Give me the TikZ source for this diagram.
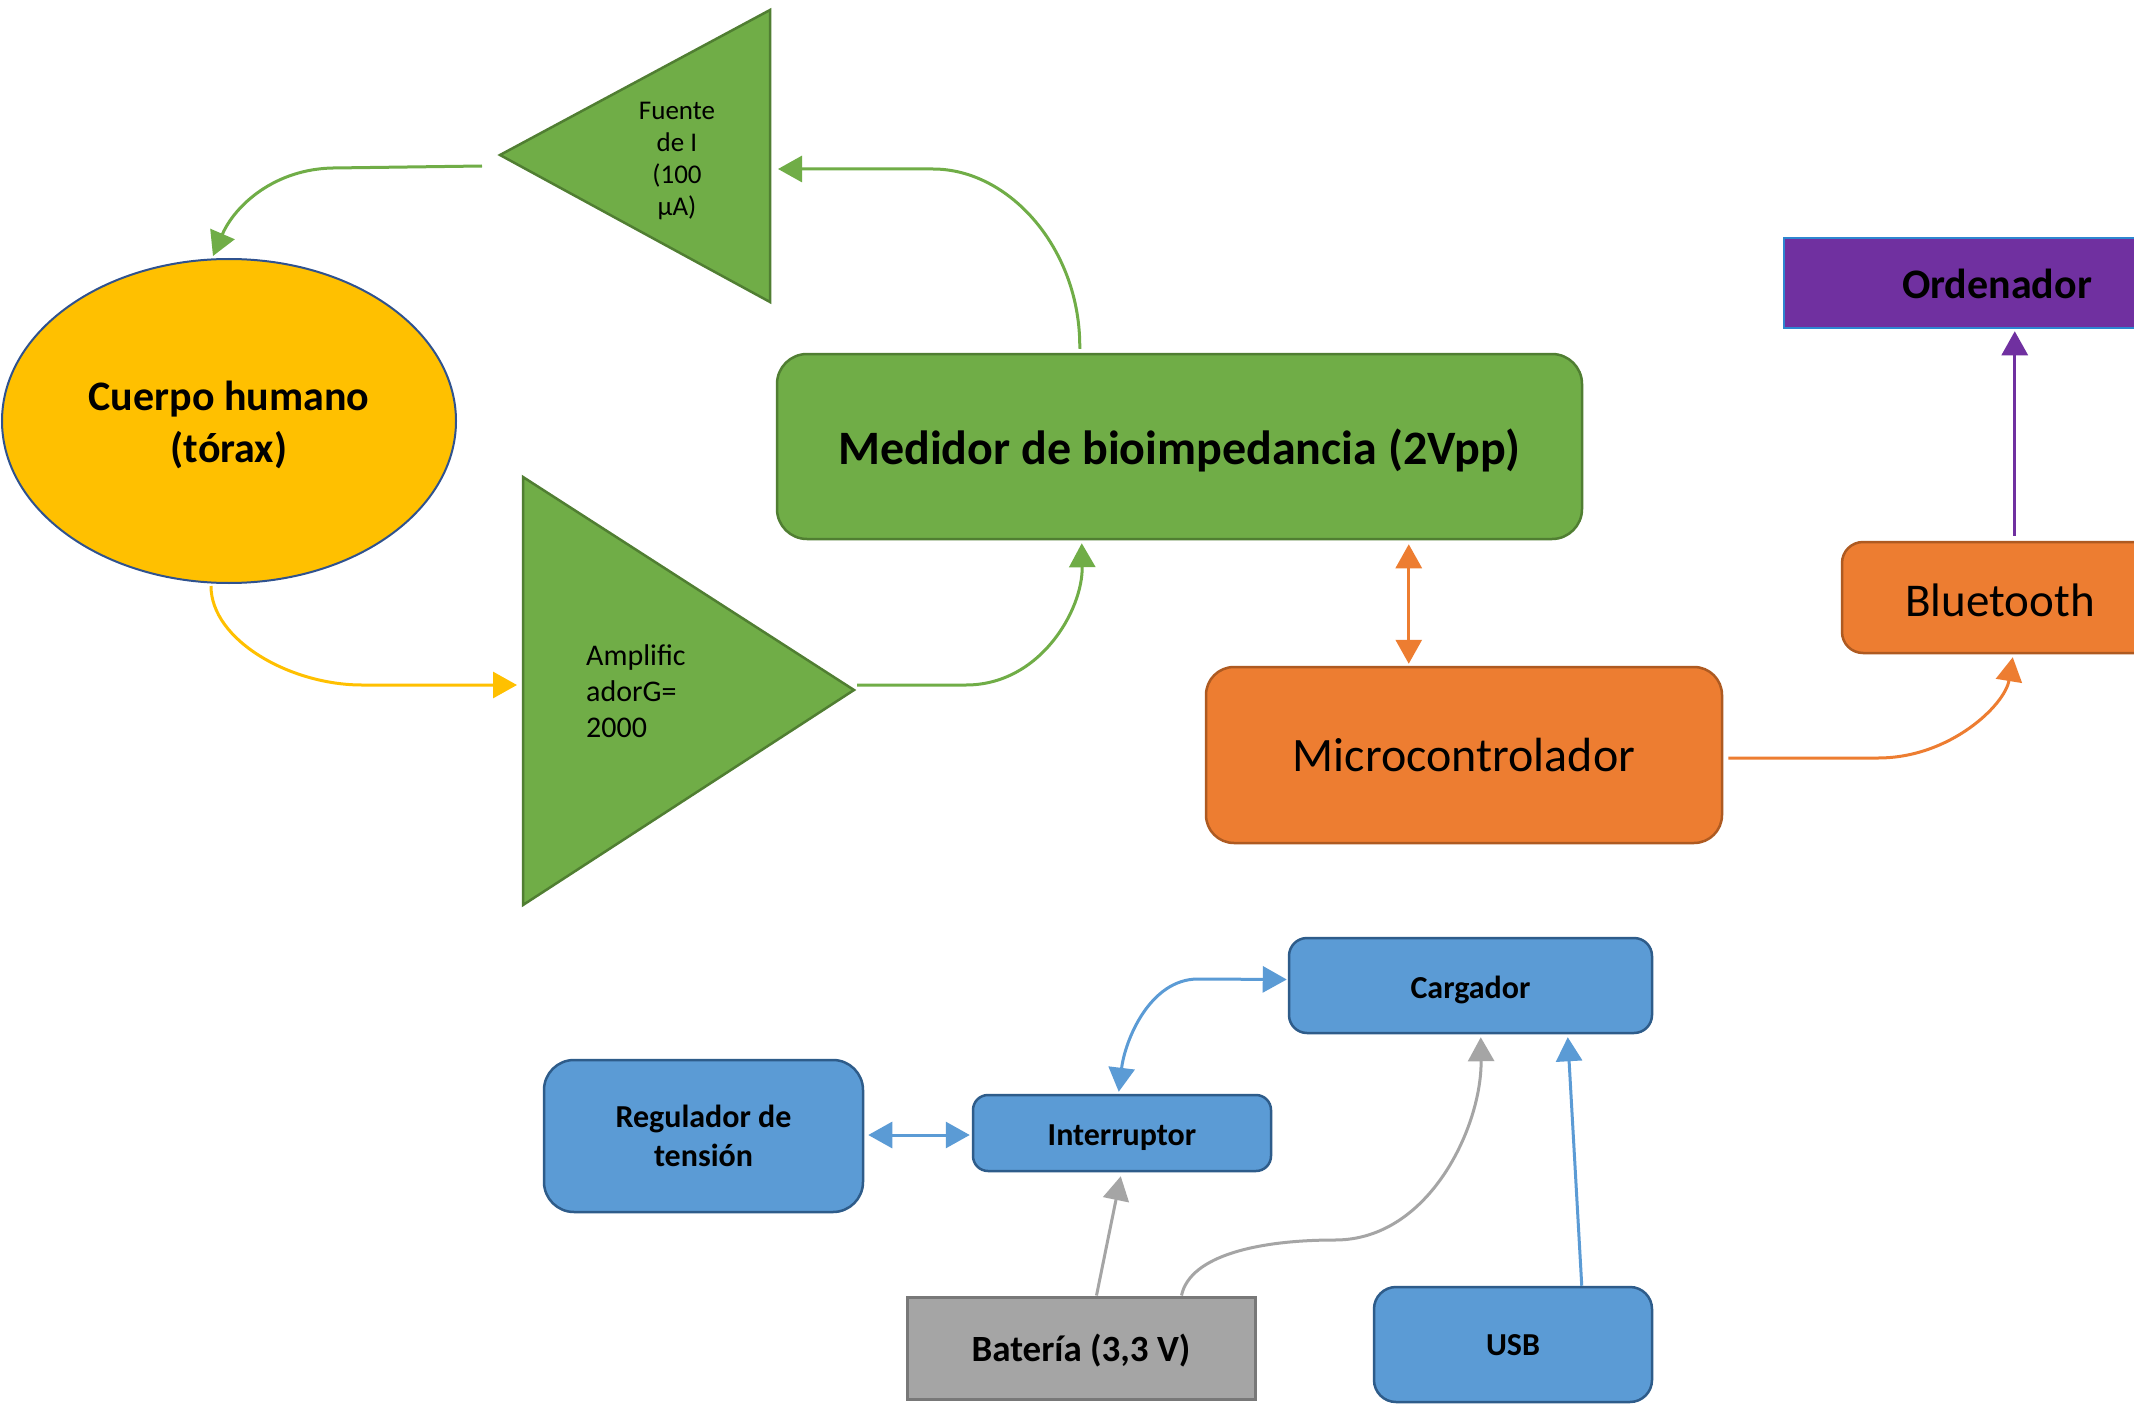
\documentclass[tikz,border=0pt]{standalone}
\usepackage{fontspec}
\setmainfont{Carlito}
\usetikzlibrary{arrows.meta,calc,shapes.geometric}
\definecolor{gfill}{HTML}{70AD47}
\definecolor{gbord}{HTML}{507E32}
\definecolor{ofill}{HTML}{ED7D31}
\definecolor{obord}{HTML}{AE5A21}
\definecolor{bfill}{HTML}{5B9BD5}
\definecolor{bbord}{HTML}{2E5C8A}
\definecolor{kfill}{HTML}{A5A5A5}
\definecolor{kbord}{HTML}{787878}
\definecolor{yfill}{HTML}{FFC000}
\definecolor{ebord}{HTML}{2F528F}
\definecolor{pfill}{HTML}{7030A0}
\definecolor{pbord}{HTML}{2E86D0}
\newcommand{\lowr}[2]{\raisebox{-#1pt}[\height][\depth]{#2}}
\begin{document}
\begin{tikzpicture}[x=1pt,y=-1pt,
  >={Triangle[length=24pt,width=26pt]},
  conn/.style={line width=3pt},
  gline/.style={conn,draw=gfill,fill=none},
  yline/.style={conn,draw=yfill},
  oline/.style={conn,draw=ofill},
  pline/.style={conn,draw=pfill},
  bline/.style={conn,draw=bfill},
  kline/.style={conn,draw=kfill},
  greenbox/.style={draw=gbord,fill=gfill,line width=2.5pt,rounded corners=30pt,inner sep=0pt,align=center},
  orangebox/.style={draw=obord,fill=ofill,line width=2.5pt,inner sep=0pt,align=center},
  bluebox/.style={draw=bbord,fill=bfill,line width=2.5pt,inner sep=0pt,align=center,font=\fontsize{32}{39}\selectfont\bfseries},
]
\useasboundingbox (0,0) rectangle (2134,1407);
\clip (0,0) rectangle (2134,1407);
\fill[white] (0,0) rectangle (2134,1407);

% ---- triangles ----
\coordinate (fApex) at (500,155);
\coordinate (fTop) at (770,10);
\coordinate (fBot) at (770,302);
\filldraw[fill=gfill,draw=gbord,line width=2.5pt] (fApex) -- (fTop) -- (fBot) -- cycle;
\node[align=center,inner sep=0pt,font=\fontsize{27}{32}\selectfont] (fuente) at (677,161) {Fuente\\de I\\(100\\µA)};
\coordinate (fuenteIn) at (778,169);
\coordinate (fuenteOut) at (482,166);

\coordinate (aTop) at (523,477);
\coordinate (aBot) at (523,905);
\coordinate (aApex) at (854,690);
\filldraw[fill=gfill,draw=gbord,line width=2.5pt] (aTop) -- (aApex) -- (aBot) -- cycle;
\node[align=left,anchor=west,inner sep=0pt,font=\fontsize{30}{36}\selectfont] (amp) at (586,691) {Amplific\\adorG=\\2000};
\coordinate (ampIn) at (517,685);
\coordinate (ampOut) at (857,685);

% ---- nodes ----
\node[ellipse,draw=ebord,fill=yfill,line width=2pt,minimum width=454pt,minimum height=324pt,inner sep=0pt,align=center,font=\fontsize{42}{52}\selectfont\bfseries] (cuerpo) at (229,421) {\lowr{5}{\begin{tabular}{@{}c@{}}Cuerpo humano\\(tórax)\end{tabular}}};

\node[greenbox,minimum width=805pt,minimum height=185pt,font=\fontsize{48}{58}\selectfont\bfseries] (medidor) at (1179.5,446.5) {\lowr{4}{Medidor de bioimpedancia (2Vpp)}};

\node[orangebox,rounded corners=28pt,minimum width=516pt,minimum height=176pt,font=\fontsize{48}{58}\selectfont] (micro) at (1464,755) {Microcontrolador};

\node[orangebox,rounded corners=21pt,minimum width=316pt,minimum height=111pt,font=\fontsize{47}{56}\selectfont] (bluetooth) at (2000,597.5) {\lowr{3}{Bluetooth}};

\node[draw=pbord,fill=pfill,line width=2.5pt,inner sep=0pt,minimum width=426pt,minimum height=90pt,font=\fontsize{42}{50}\selectfont\bfseries] (ordenador) at (1997,283) {\lowr{1}{Ordenador}};

\node[bluebox,rounded corners=30pt,minimum width=319pt,minimum height=152pt] (regulador) at (703.5,1136) {Regulador de\\tensión};
\node[bluebox,rounded corners=15pt,minimum width=298pt,minimum height=76pt] (interruptor) at (1122,1133) {\lowr{5}{Interruptor}};
\node[bluebox,rounded corners=18pt,minimum width=363pt,minimum height=95pt] (cargador) at (1470.5,985.5) {\lowr{4}{Cargador}};
\node[bluebox,rounded corners=22pt,minimum width=278pt,minimum height=115pt] (usb) at (1513,1344.5) {\lowr{1}{USB}};
\node[draw=kbord,fill=kfill,line width=3pt,inner sep=0pt,minimum width=348pt,minimum height=102pt,font=\fontsize{37}{44}\selectfont\bfseries] (bateria) at (1081,1348) {\lowr{3}{Batería (3,3 V)}};

% ---- connectors ----
\draw[gline,->] ($(medidor.north west)+(304,-4)$) .. controls (1081,250) and (1010,169) .. (933,169) -- (fuenteIn);
\draw[gline,->] (fuenteOut) -- (333,168) .. controls (275,169) and (235,205) .. ($(cuerpo.north)+(-16,-2)$);
\draw[yline,->] ($(cuerpo.south)+(-18,2)$) .. controls (211,640) and (290,685) .. (362,685) -- (ampIn);
\draw[gline,->] (ampOut) -- (966,685) .. controls (1040,685) and (1083,610) .. ($(medidor.south west)+(306,3)$);
\draw[oline,<->] ($(medidor.south west)+(633,4)$) -- ($(micro.north west)+(204,-2)$);
\draw[oline,->] ($(micro.east)+(5,3)$) -- (1878,758) .. controls (1950,758) and (2005,705) .. ($(bluetooth.south west)+(172,3)$);
\draw[pline,->] ($(bluetooth.north west)+(174,-5)$) -- ($(ordenador.south west)+(232,2)$);

\draw[bline,<->] ($(regulador.east)+(4,-1)$) -- ($(interruptor.west)+(-2,2)$);
\draw[bline,<->] ($(interruptor.north west)+(147,-2)$) .. controls (1125,1040) and (1150,979) .. (1198,979) -- ($(cargador.west)+(-1,-6)$);
\draw[kline,->] ($(bateria.north west)+(191,0)$) -- ($(interruptor.south west)+(149,4)$);
\draw[kline] ($(bateria.north west)+(276,0)$) .. controls (1190,1255) and (1260,1240) .. (1335,1240);
\draw[kline,->] (1335,1240) .. controls (1430,1240) and (1482,1125) .. ($(cargador.south west)+(193,3)$);
\draw[bline,->] ($(usb.north west)+(209,0)$) -- ($(cargador.south west)+(280,3)$);
\end{tikzpicture}
\end{document}
